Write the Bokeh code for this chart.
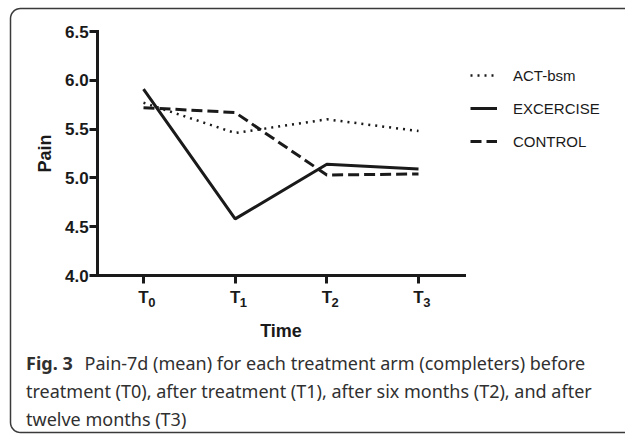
import math
from bokeh.plotting import figure
from bokeh.models import (Legend, LegendItem, FixedTicker, Range1d, LinearAxis, Label)
from bokeh.embed import file_html
from bokeh.resources import INLINE

# ---- data ----
time_pos = [0, 1, 2, 3]
time_letter = ["T", "T", "T", "T"]
time_index = ["0", "1", "2", "3"]
act_bsm = [5.77, 5.46, 5.60, 5.48]
exercise = [5.91, 4.58, 5.14, 5.09]
control = [5.72, 5.67, 5.03, 5.04]
y_ticks = [4.0, 4.5, 5.0, 5.5, 6.0, 6.5]
caption_bold = "Fig. 3"
caption_lines = [
    "Pain-7d (mean) for each treatment arm (completers) before",
    "treatment (T0), after treatment (T1), after six months (T2), and after",
    "twelve months (T3)",
]

INK = "#1a1a1a"
FONT = "Liberation Sans"
W, H = 625, 434

# frame = whole canvas; ranges chosen so the axes sit where the reference has them
PX_X = 91.67   # pixels per time step
PX_Y = 97.6    # pixels per pain unit
x0 = -143 / PX_X
y1 = 6.5 + 31 / PX_Y


def dx(px):
    return x0 + px / PX_X


def dy(py):
    return y1 - py / PX_Y


p = figure(width=W, height=H,
           x_range=Range1d(x0, x0 + W / PX_X), y_range=Range1d(y1 - H / PX_Y, y1),
           output_backend="svg", toolbar_location=None,
           x_axis_location=None, y_axis_location=None,
           min_border=0, min_border_left=0, min_border_right=0,
           min_border_top=0, min_border_bottom=0)
p.outline_line_color = None
p.grid.visible = False

# ---- rounded frame around figure + caption (open at the right edge) ----
R, LEFT, TOP, BOTTOM = 10, 10, 8, 432
tl = [(LEFT + R + R * math.cos(math.radians(90 + k * 90 / 8)),
       TOP + R - R * math.sin(math.radians(90 + k * 90 / 8))) for k in range(9)]
bl = [(LEFT + R + R * math.cos(math.radians(180 + k * 90 / 8)),
       BOTTOM - R - R * math.sin(math.radians(180 + k * 90 / 8))) for k in range(9)]
path = [(640, TOP)] + tl + bl + [(640, BOTTOM)]
p.line([dx(a) for a, _ in path], [dy(b) for _, b in path],
       line_color="#3a3a3a", line_width=1.5)

r1 = p.line(time_pos, act_bsm, line_color=INK, line_width=2.5, line_dash="2 5")
r2 = p.line(time_pos, exercise, line_color=INK, line_width=3)
r3 = p.line(time_pos, control, line_color=INK, line_width=3, line_dash="11 5")

xaxis = LinearAxis(fixed_location=4.0, bounds=(-0.5, 3.5))
yaxis = LinearAxis(fixed_location=-0.5, bounds=(4.0, 6.5))
for ax in (xaxis, yaxis):
    ax.axis_line_width = 3
    ax.axis_line_color = INK
    ax.axis_line_cap = "square"
    ax.major_tick_line_width = 3
    ax.major_tick_line_color = INK
    ax.major_tick_out = 8
    ax.major_tick_in = 0
    ax.minor_tick_line_color = None
    ax.major_label_text_font = FONT
    ax.major_label_text_font_style = "bold"
    ax.major_label_text_font_size = "17px"
    ax.major_label_text_color = INK
    ax.axis_label_text_font = FONT
    ax.axis_label_text_font_style = "bold"
    ax.axis_label_text_font_size = "18px"
    ax.axis_label_text_color = INK

xaxis.ticker = FixedTicker(ticks=time_pos)
xaxis.major_label_overrides = {i: t for i, t in zip(time_pos, time_letter)}
xaxis.major_label_standoff = 4
xaxis.axis_label = "Time"
xaxis.axis_label_standoff = 11

# subscript indices of the time points: a second axis with offset ticks
SUB = 0.09
sub_ticks = [t + SUB for t in time_pos]
subaxis = LinearAxis(fixed_location=4.0, bounds=(-0.5, 3.5))
subaxis.ticker = FixedTicker(ticks=sub_ticks)
subaxis.major_label_overrides = {t: s for t, s in zip(sub_ticks, time_index)}
subaxis.axis_line_color = None
subaxis.major_tick_line_color = None
subaxis.minor_tick_line_color = None
subaxis.major_tick_out = 0
subaxis.major_tick_in = 0
subaxis.major_label_standoff = 22
subaxis.major_label_text_font = FONT
subaxis.major_label_text_font_style = "bold"
subaxis.major_label_text_font_size = "13px"
subaxis.major_label_text_color = INK

yaxis.ticker = FixedTicker(ticks=y_ticks)
yaxis.major_label_overrides = {v: f"{v:.1f}" for v in y_ticks}
yaxis.major_label_standoff = 1
yaxis.axis_label = "Pain"
yaxis.axis_label_standoff = 7

p.add_layout(xaxis, "below")
p.add_layout(subaxis, "below")
p.add_layout(yaxis, "left")

legend = Legend(items=[LegendItem(label="ACT-bsm", renderers=[r1]),
                       LegendItem(label="EXCERCISE", renderers=[r2]),
                       LegendItem(label="CONTROL", renderers=[r3])],
                location=(470, 283), border_line_alpha=0, background_fill_alpha=0,
                glyph_width=27, glyph_height=20, label_height=20, spacing=13,
                padding=0, margin=0, label_standoff=16,
                label_text_font=FONT, label_text_font_size="15px",
                label_text_color=INK)
p.add_layout(legend)

CAP_FONT = "Noto Sans"
CAP_SIZE = "18px"
CAP_COLOR = "#303030"
p.add_layout(Label(x=25.5, y=H - 362, x_units="screen", y_units="screen",
                   text=caption_bold, text_font=CAP_FONT, text_font_style="bold",
                   text_font_size=CAP_SIZE, text_color=CAP_COLOR, text_baseline="middle"))
for txt, (x, y) in zip(caption_lines, [(84, 362), (25.5, 390), (25.5, 418)]):
    p.add_layout(Label(x=x, y=H - y, x_units="screen", y_units="screen",
                       text=txt, text_font=CAP_FONT,
                       text_font_size=CAP_SIZE, text_color=CAP_COLOR,
                       text_baseline="middle"))

open("out.html", "w").write(file_html(p, INLINE))
